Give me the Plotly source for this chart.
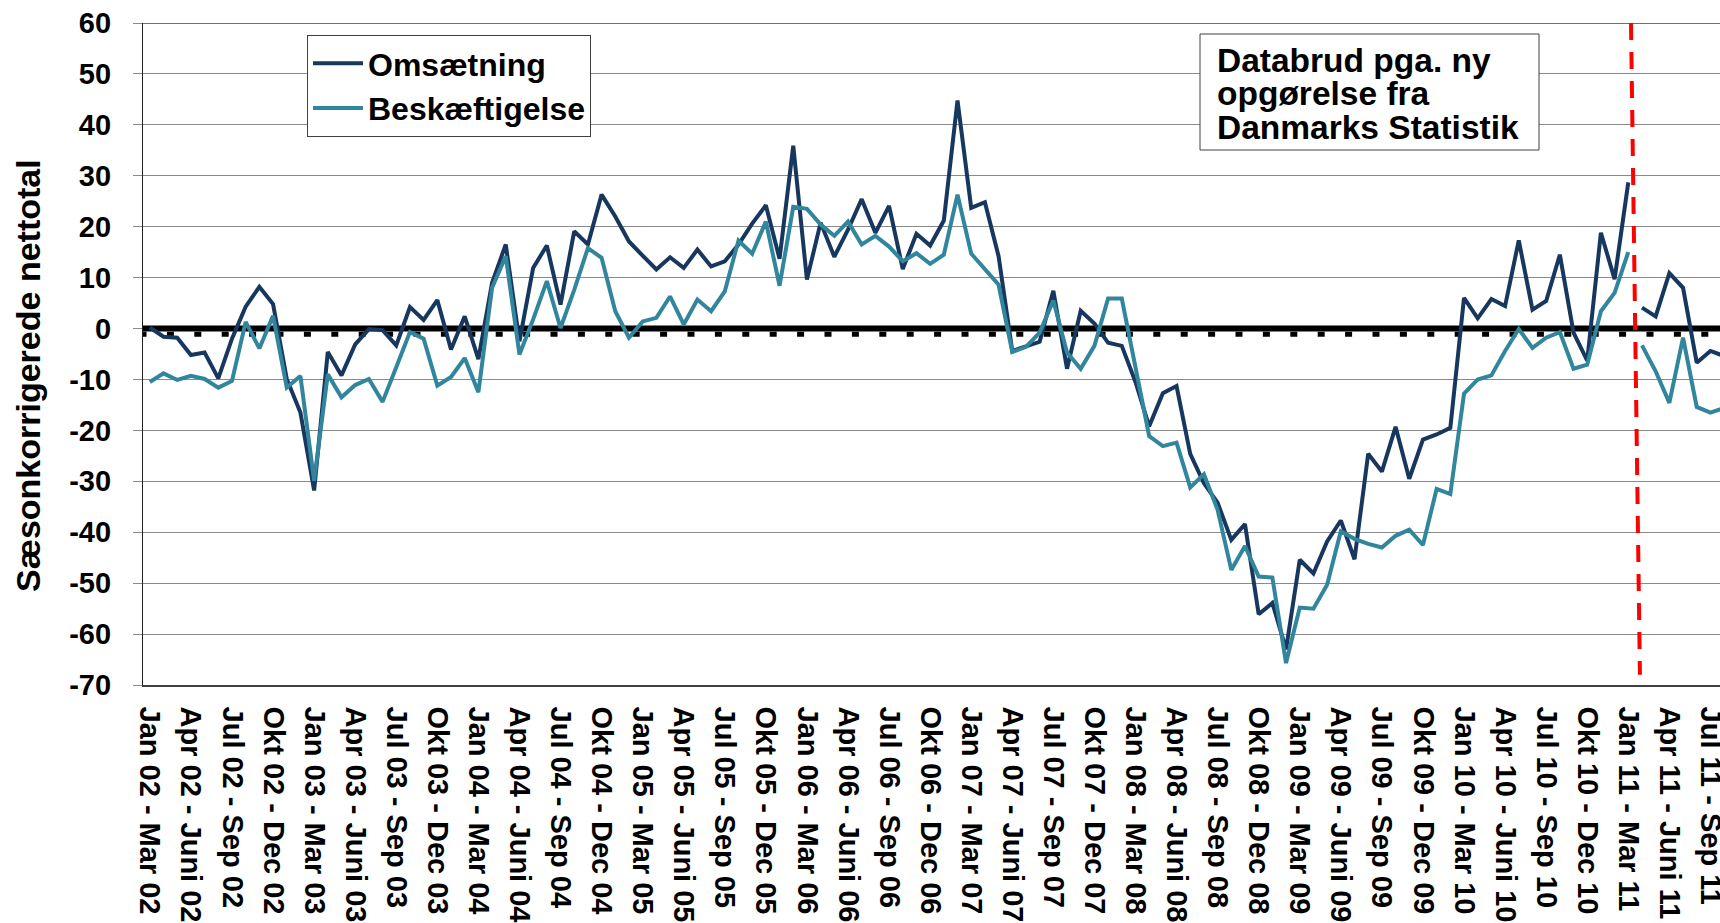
import plotly.graph_objects as go

# ---------------- data ----------------
MONTHS = ["Jan", "Feb", "Mar", "Apr", "Maj", "Juni", "Jul", "Aug", "Sep", "Okt", "Nov", "Dec"]
START_YEAR = 2002
N_PERIODS = 116

categories = []
for k in range(N_PERIODS):
    m1, y1 = k % 12, START_YEAR + k // 12
    m2, y2 = (k + 2) % 12, START_YEAR + (k + 2) // 12
    categories.append(f"{MONTHS[m1]} {y1 % 100:02d} - {MONTHS[m2]} {y2 % 100:02d}")

tick_labels = categories[::3]
y_ticks = [60, 50, 40, 30, 20, 10, 0, -10, -20, -30, -40, -50, -60, -70]

BREAK = 109  # first period of the new statistic

omsaetning_old = [
    0.2, -1.6, -1.8, -5.2, -4.7, -9.8, -2.0, 4.3, 8.2, 4.8,
    -9.9, -16.5, -31.8, -4.6, -9.2, -3.1, -0.1, -0.3, -3.3, 4.2,
    1.7, 5.6, -4.1, 2.4, -6.0, 9.0, 16.5, -2.5, 11.9, 16.3,
    4.7, 19.1, 16.5, 26.3, 22.0, 17.1, 14.3, 11.6, 14.0, 11.9,
    15.5, 12.2, 13.2, 16.5, 20.6, 24.2, 13.7, 35.9, 9.6, 20.8,
    14.1, 19.4, 25.4, 18.8, 24.1, 11.7, 18.6, 16.3, 21.2, 44.8,
    23.7, 24.8, 14.2, -4.4, -3.5, -2.6, 7.4, -7.9, 3.5, 1.0,
    -2.8, -3.4, -10.5, -19.2, -12.7, -11.3, -24.6, -30.4, -34.2, -41.5,
    -38.4, -56.1, -53.9, -63.0, -45.4, -48.1, -41.8, -37.7, -45.3, -24.6,
    -28.1, -19.3, -29.5, -21.8, -20.8, -19.5, 6.0, 2.0, 5.8, 4.4,
    17.3, 3.7, 5.4, 14.5, -0.8, -6.3, 18.8, 9.7, 28.7,
]
beskaeftigelse_old = [
    -10.5, -8.8, -10.1, -9.3, -9.9, -11.6, -10.3, 1.3, -3.9, 2.5,
    -11.6, -9.3, -29.9, -9.0, -13.5, -11.1, -9.9, -14.4, -7.6, -0.7,
    -2.0, -11.2, -9.5, -5.8, -12.5, 8.0, 14.2, -5.1, 1.8, 9.3,
    0.1, 7.6, 15.8, 13.9, 3.4, -1.8, 1.4, 2.1, 6.3, 0.8,
    5.7, 3.4, 7.3, 17.3, 14.7, 21.0, 8.4, 23.9, 23.5, 20.4,
    18.2, 21.0, 16.5, 18.2, 16.1, 13.2, 14.8, 12.7, 14.5, 26.3,
    14.7, 11.6, 8.6, -4.6, -3.6, -0.8, 5.5, -4.7, -7.9, -3.4,
    5.9, 5.9, -8.0, -21.1, -23.1, -22.4, -31.2, -28.6, -35.6, -47.4,
    -42.7, -48.7, -48.9, -65.7, -54.8, -55.0, -50.3, -39.8, -41.3, -42.3,
    -43.0, -40.7, -39.5, -42.5, -31.5, -32.5, -12.8, -10.0, -9.2, -4.4,
    -0.1, -3.8, -1.8, -0.7, -7.9, -7.1, 3.4, 7.0, 15.0,
]
omsaetning_new = [4.1, 2.4, 10.9, 8.0, -6.7, -4.4, -5.4]
beskaeftigelse_new = [-3.3, -8.4, -14.6, -1.8, -15.4, -16.5, -15.6]

cats_old = categories[:BREAK]
cats_new = categories[BREAK:BREAK + len(omsaetning_new)]

# ---------------- style ----------------
DARK = "#17375E"
TEAL = "#31859C"
FONT = "Arial, Liberation Sans, sans-serif"
W, H = 1720, 923
ML, MR, MT, MB = 143, 0, 23, 238
PW, PH = W - ML - MR, H - MT - MB
X_RANGE = [-0.5, 114.7]
Y_RANGE = [-70, 60]


def px_x(px):
    return (px - ML) / PW


def px_y(py):
    return (H - MB - py) / PH


fig = go.Figure()
fig.add_trace(go.Scatter(x=cats_old, y=omsaetning_old, mode="lines", name="Omsætning",
                         legendgroup="oms", line=dict(color=DARK, width=4)))
fig.add_trace(go.Scatter(x=cats_old, y=beskaeftigelse_old, mode="lines", name="Beskæftigelse",
                         legendgroup="besk", line=dict(color=TEAL, width=4)))
fig.add_trace(go.Scatter(x=cats_new, y=omsaetning_new, mode="lines", name="Omsætning",
                         legendgroup="oms", showlegend=False, line=dict(color=DARK, width=4)))
fig.add_trace(go.Scatter(x=cats_new, y=beskaeftigelse_new, mode="lines", name="Beskæftigelse",
                         legendgroup="besk", showlegend=False, line=dict(color=TEAL, width=4)))

shapes = [
    # zero line with tick marks
    dict(type="line", xref="x", yref="y", x0=X_RANGE[0], x1=X_RANGE[1], y0=0, y1=0,
         line=dict(color="black", width=6), layer="between"),
    dict(type="line", xref="x", yref="y", x0=X_RANGE[0], x1=X_RANGE[1], y0=-1.12, y1=-1.12,
         line=dict(color="black", width=5, dash="3.5px,20.4px,3.5px,0px"), layer="between"),
    # top border line
    dict(type="line", xref="x", yref="y", x0=X_RANGE[0], x1=X_RANGE[1], y0=60, y1=60,
         line=dict(color="#404040", width=1.5), layer="between"),
    # data break line
    dict(type="line", xref="x", yref="y", x0=BREAK - 0.8, x1=BREAK - 0.15, y0=60, y1=-68,
         line=dict(color="#FF0000", width=4, dash="17px,12px"), layer="above"),
    # note box
    dict(type="rect", xref="paper", yref="paper", x0=px_x(1200), x1=px_x(1539),
         y0=px_y(150), y1=px_y(34), fillcolor="white", line=dict(color="#404040", width=1),
         layer="above"),
]

note_lines = ["Databrud pga. ny", "opgørelse fra", "Danmarks Statistik"]
note_y = [60, 93.5, 127]
annotations = []
for txt, yy in zip(note_lines, note_y):
    annotations.append(dict(text=txt, xref="paper", yref="paper", x=px_x(1215), y=px_y(yy),
                            xanchor="left", yanchor="middle", showarrow=False,
                            font=dict(family=FONT, size=33.5, color="black", weight="bold")))
annotations.append(dict(text="Sæsonkorrigerede nettotal", xref="paper", yref="paper",
                        x=px_x(28), y=px_y(376), textangle=-90, showarrow=False,
                        xanchor="center", yanchor="middle",
                        font=dict(family=FONT, size=34, color="black", weight="bold")))

fig.update_layout(
    width=W, height=H,
    margin=dict(l=ML, r=MR, t=MT, b=MB, pad=0, autoexpand=False),
    paper_bgcolor="white", plot_bgcolor="white",
    font=dict(family=FONT, color="black"),
    showlegend=True,
    legend=dict(x=px_x(307), y=px_y(35), xanchor="left", yanchor="top",
                bgcolor="white", bordercolor="#404040", borderwidth=1,
                font=dict(family=FONT, size=32, color="black", weight="bold"),
                itemwidth=50, tracegroupgap=0),
    shapes=shapes,
    annotations=annotations,
    xaxis=dict(type="category", categoryorder="array", categoryarray=categories,
               range=X_RANGE, tickmode="array", tickvals=tick_labels, ticktext=tick_labels,
               tickangle=90, tickfont=dict(family=FONT, size=29, color="black", weight="bold"),
               showgrid=False, zeroline=False, showline=True, linecolor="#404040", linewidth=1.5,
               ticks="", ticklabelstandoff=14, automargin=False),
    yaxis=dict(range=Y_RANGE, tickmode="array", tickvals=y_ticks,
               ticktext=[str(v) for v in y_ticks],
               showgrid=True, gridcolor="#8a8a8a", gridwidth=1.3, zeroline=False,
               showline=True, linecolor="#202020", linewidth=1.3,
               ticks="outside", ticklen=9, tickcolor="#8a8a8a", tickwidth=1.3,
               tickfont=dict(family=FONT, size=29, color="black", weight="bold"),
               ticklabelstandoff=16, automargin=False),
)

fig.write_html(
    "out.html",
    config={"displayModeBar": False},
    post_script="document.body.style.margin='0';document.body.style.overflow='hidden';",
)
